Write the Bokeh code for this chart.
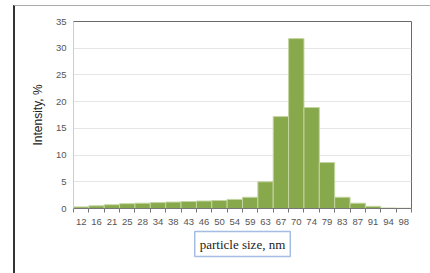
from bokeh.plotting import figure
from bokeh.layouts import column
from bokeh.models import FixedTicker, Range1d, Title
from bokeh.embed import file_html
from bokeh.resources import INLINE

sizes = ["12", "16", "21", "25", "28", "34", "38", "43", "46", "50", "54",
         "59", "63", "67", "70", "74", "79", "83", "87", "91", "94", "98"]
intensity = [0.3, 0.5, 0.7, 0.9, 1.0, 1.1, 1.2, 1.3, 1.4, 1.5, 1.7,
             2.1, 5.0, 17.2, 31.8, 18.9, 8.6, 2.1, 1.0, 0.4, 0.1, 0.05]
y_ticks = [0, 5, 10, 15, 20, 25, 30, 35]

n = len(sizes)
idx = list(range(n))

p = figure(width=415, height=267, output_backend="svg", toolbar_location=None,
           x_range=Range1d(-0.5, n - 0.5), y_range=Range1d(0, 35),
           min_border_left=58, min_border_right=19, min_border_top=15,
           min_border_bottom=65)

p.vbar(x=idx, top=intensity, width=1.0, fill_color="#88a84c",
       line_color="#c4d5a0", line_width=1)

p.outline_line_color = "#6a6a6a"
p.outline_line_width = 1
p.xgrid.visible = False
p.ygrid.grid_line_color = "#e6e6e6"

xa = p.xaxis[0]
xa.ticker = FixedTicker(ticks=idx, minor_ticks=[i - 0.5 for i in range(n + 1)])
xa.major_label_overrides = {i: s for i, s in zip(idx, sizes)}
xa.major_tick_in = 0
xa.major_tick_out = 0
xa.minor_tick_in = 0
xa.minor_tick_out = 4
xa.minor_tick_line_color = "#777777"
xa.axis_line_color = "#777777"
xa.major_label_text_font = "Liberation Sans"
xa.major_label_text_font_size = "9.5px"
xa.major_label_text_color = "#555555"
xa.major_label_standoff = 6

ya = p.yaxis[0]
ya.ticker = FixedTicker(ticks=y_ticks)
ya.axis_line_color = "#cccccc"
ya.major_tick_in = 0
ya.major_tick_out = 0
ya.minor_tick_line_color = None
ya.major_label_text_font = "Liberation Sans"
ya.major_label_text_font_size = "9.5px"
ya.major_label_text_color = "#555555"
ya.major_label_standoff = 7
ya.axis_label = "Intensity, %"
ya.axis_label_text_font = "Liberation Sans"
ya.axis_label_text_font_size = "12px"
ya.axis_label_text_font_style = "normal"
ya.axis_label_text_color = "#222222"
ya.axis_label_standoff = 8

p.add_layout(Title(text="particle size, nm", align="center", offset=9,
                   text_font="Liberation Serif", text_font_size="13px",
                   text_font_style="normal", text_color="#222222",
                   border_line_color="#a4bde0", border_line_width=1.5,
                   background_fill_color="white", padding=5, standoff=4),
             "below")

layout = column(p, styles={"margin-left": "13px", "margin-top": "5px",
                           "border-left": "2px solid #333333",
                           "border-top": "1px solid #aaaaaa"})

open("out.html", "w").write(file_html(layout, INLINE))
